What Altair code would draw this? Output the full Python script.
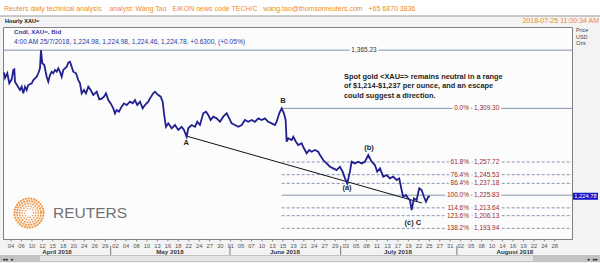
import altair as alt
import pandas as pd

# ---------------- data ----------------
# position along the (trading-time) axis, in day units from 1 Apr, and hourly bid price
day = [1.12, 1.39, 2.01, 2.54, 3.19, 3.62, 3.89, 4.07, 4.96, 5.42, 5.87, 6.30, 6.76, 7.21, 7.64,
       8.56, 8.99, 9.90, 10.33, 10.78, 11.05, 11.40, 11.94, 12.58, 13.01, 13.47, 13.92, 14.35,
       14.81, 15.27, 15.70, 16.15, 16.61, 17.04, 17.49, 17.95, 18.38, 18.84, 19.29, 19.72,
       20.45, 21.06, 21.52, 21.98, 22.59, 23.13, 23.75, 24.39, 25.09, 26.00, 26.70, 27.34,
       27.96, 28.50, 29.12, 29.76, 30.46, 30.91, 31.37, 31.99, 32.71, 33.33, 34.05, 34.94,
       35.66, 36.28, 36.90, 37.62, 38.35, 38.96, 39.85, 40.31, 41.19, 41.65, 42.54, 43.18,
       43.72, 44.07, 44.60, 45.22, 46.13, 47.02, 47.90, 48.82, 49.43, 50.16, 50.59, 51.50,
       52.39, 53.00, 53.73, 54.61, 55.34, 55.96, 56.60, 57.30, 58.21, 59.10, 59.98, 60.90,
       61.59, 62.24, 63.12, 64.01, 64.92, 65.81, 66.69, 67.60, 68.49, 69.38, 70.29, 71.17,
       72.06, 72.97, 73.86, 74.31, 75.01, 75.66, 76.27, 76.73, 77.00, 77.43, 78.34, 78.77,
       79.49, 80.11, 81.02, 81.64, 82.37, 83.06, 83.71, 84.59, 85.48, 85.94, 86.82, 87.73,
       88.62, 89.51, 90.42, 91.30, 92.03, 92.65, 93.26, 93.99, 94.44, 95.33, 96.21, 97.13,
       98.01, 98.90, 99.81, 100.70, 101.31, 102.04, 102.93, 103.84, 104.72, 105.61, 106.52,
       107.22, 107.86, 108.29, 109.02, 109.63, 110.09, 110.55, 111.16, 111.89, 112.59,
       113.23, 113.85, 114.39, 115.00, 115.46]
price = [1343.9, 1338.5, 1343.0, 1333.4, 1337.2, 1346.2, 1346.8, 1334.9, 1329.5, 1326.9, 1330.1,
         1323.7, 1330.1, 1326.9, 1331.7, 1333.4, 1336.5, 1339.7, 1343.0, 1347.8, 1365.2, 1352.6,
         1351.0, 1339.7, 1334.9, 1341.3, 1344.5, 1343.0, 1346.2, 1344.5, 1347.8, 1344.5, 1339.7,
         1346.2, 1347.8, 1349.3, 1353.2, 1354.1, 1349.3, 1344.5, 1343.0, 1336.5, 1333.4, 1323.7,
         1326.9, 1323.7, 1330.1, 1326.9, 1322.1, 1325.3, 1318.0, 1318.6, 1320.5, 1323.7, 1317.3,
         1314.1, 1309.3, 1304.5, 1307.7, 1306.1, 1310.9, 1314.1, 1312.5, 1315.7, 1314.1, 1317.3,
         1312.5, 1315.7, 1309.3, 1312.5, 1315.7, 1318.9, 1323.7, 1325.3, 1322.1, 1320.5, 1315.7,
         1304.5, 1291.6, 1294.9, 1290.1, 1293.3, 1288.5, 1291.6, 1288.5, 1282.0, 1290.1, 1293.3,
         1291.6, 1296.4, 1293.3, 1304.5, 1306.1, 1302.9, 1298.1, 1301.3, 1299.7, 1296.4, 1301.3,
         1304.5, 1299.7, 1294.9, 1293.3, 1291.6, 1293.3, 1298.1, 1296.4, 1298.1, 1296.4, 1299.7,
         1298.1, 1299.7, 1296.4, 1294.9, 1293.3, 1296.4, 1304.5, 1309.3, 1304.5, 1298.1, 1277.2,
         1280.5, 1278.8, 1282.0, 1277.2, 1274.0, 1275.7, 1270.9, 1266.1, 1269.2, 1267.6, 1269.2,
         1267.6, 1264.4, 1259.6, 1256.4, 1253.2, 1251.6, 1250.0, 1253.2, 1248.4, 1242.0, 1237.2,
         1248.4, 1258.0, 1256.4, 1258.0, 1256.4, 1258.0, 1264.4, 1258.0, 1254.8, 1248.4, 1251.6,
         1243.6, 1245.2, 1242.0, 1243.6, 1240.4, 1242.0, 1230.8, 1224.3, 1226.0, 1222.8, 1221.2,
         1211.5, 1222.8, 1221.2, 1232.4, 1230.8, 1224.3, 1219.5, 1224.3, 1224.8]

fib_pct = ["0.0%", "61.8%", "76.4%", "86.4%", "100.0%", "114.6%", "123.6%", "138.2%"]
fib_level = [1309.30, 1257.72, 1245.53, 1237.18, 1225.83, 1213.64, 1206.13, 1193.94]
fib_value_text = ["1,309.30", "1,257.72", "1,245.53", "1,237.18", "1,225.83", "1,213.64",
                  "1,206.13", "1,193.94"]
fib_dashed = [False, True, True, True, False, True, True, True]
fib_from_day = 75.66

high_level = 1365.23
high_text = "1,365.23"
last_price = 1224.78
last_text = "1,224.78"

wave_text = ["A", "B", "(a)", "(b)", "(c) C"]
wave_day = [50.0, 76.0, 93.2, 99.1, 110.9]
wave_price = [1276.0, 1316.3, 1232.7, 1271.2, 1199.0]

trend_day = [50.16, 113.3]
trend_price = [1282.6, 1218.3]

y_ticks = [1190, 1200, 1210, 1220, 1230, 1240, 1250, 1260, 1270, 1280, 1290, 1300, 1310,
           1320, 1330, 1340, 1350, 1360]
# day labels, one every two trading sessions
tick_labels = ["04", "06", "10", "12", "15", "18", "20", "24", "26", "29",
               "02", "04", "08", "10", "13", "16", "18", "22", "24", "27", "30",
               "01", "05", "07", "10", "13", "15", "19", "21", "24", "27", "29",
               "03", "05", "08", "11", "13", "17", "19", "22", "25", "27", "31",
               "02", "05", "08", "10", "14", "16", "19", "22", "24", "28"]
first_tick_day = 3.0
tick_step_day = 2.8075
month_names = ["April 2018", "May 2018", "June 2018", "July 2018", "August 2018"]
month_mid_day = [15.35, 45.68, 76.54, 106.87, 138.27]
month_sep_day = [29.76, 61.78, 91.49, 122.7]

title_text = ("Reuters daily technical analysis\u00a0\u00a0\u00a0 analyst: Wang Tao\u00a0\u00a0 "
              "EIKON news code TECH/C\u00a0\u00a0 wang.tao@thomsonreuters.com\u00a0\u00a0 +65 6870 3836")
stamp_text = "2018-07-25 11:00:34 AM"
panel_text = "Hourly XAU="
legend_1 = "Cndl, XAU=, Bid"
legend_2 = "4:00 AM 25/7/2018, 1,224.98, 1,224.98, 1,224.46, 1,224.78, +0.6300, (+0.05%)"
comment = ["Spot gold <XAU=> remains neutral in a range",
           "of $1,214-$1,237 per ounce, and an escape",
           "could suggest a direction."]
unit_lines = ["Price", "USD", "Ozs"]

# ---------------- tables ----------------
series = pd.DataFrame({"t": day, "p": price})
fib = pd.DataFrame({"pct": fib_pct, "lvl": fib_level, "val": fib_value_text,
                    "dashed": fib_dashed, "t": fib_from_day})
waves = pd.DataFrame({"txt": wave_text, "t": wave_day, "p": wave_price})
trend = pd.DataFrame({"t": trend_day, "p": trend_price})
months = pd.DataFrame({"name": month_names, "t": month_mid_day})
seps = pd.DataFrame({"t": month_sep_day})
high = pd.DataFrame({"lvl": [high_level], "txt": [high_text]})
last = pd.DataFrame({"lvl": [last_price], "txt": [last_text]})
ticks = pd.DataFrame({"lab": tick_labels,
                      "t": [first_tick_day + i * tick_step_day for i in range(len(tick_labels))]})
one = pd.DataFrame({"k": [0]})

FONT = "Liberation Sans"
BG = "#fcfcfc"

xs = alt.Scale(domain=[0.853, 153.6], zero=False, nice=False)
ys = alt.Scale(domain=[1183.7, 1387.5], zero=False, nice=False)

X = alt.X("t:Q", scale=xs, axis=None)
Y = alt.Y("p:Q", scale=ys, axis=None)
YL = alt.Y("lvl:Q", scale=ys, axis=None)

layers = []

# header band
layers.append(alt.Chart(one).mark_rule(color="white", strokeWidth=16).encode(
    x=alt.value(-3), x2=alt.value(597), y=alt.value(-19)))
layers.append(alt.Chart(one).mark_rule(color="#9a9a9a", strokeWidth=1).encode(
    x=alt.value(-3), x2=alt.value(597), y=alt.value(-11)))

# high line
layers.append(alt.Chart(high).mark_rule(color="#8496ab", strokeWidth=1).encode(
    x=alt.value(0), x2=alt.value(569), y=YL))

# fib lines
layers.append(alt.Chart(fib[~fib["dashed"]]).mark_rule(color="#8496ab", strokeWidth=1).encode(
    x=X, x2=alt.value(569), y=YL))
layers.append(alt.Chart(fib[fib["dashed"]]).mark_rule(color="#8496ab", strokeWidth=1,
                                                       strokeDash=[3, 2]).encode(
    x=X, x2=alt.value(569), y=YL))

# trend line
layers.append(alt.Chart(trend).mark_line(color="#111111", strokeWidth=1).encode(x=X, y=Y))

# price series (carries the price axis)
layers.append(alt.Chart(series).mark_line(color="#202090", strokeWidth=1.8,
                                          strokeJoin="miter").encode(
    x=X,
    y=alt.Y("p:Q", scale=ys, axis=alt.Axis(
        orient="right", values=y_ticks, format=",.2f", title=None, grid=False, domain=False,
        labelFont=FONT, labelFontSize=5.6, labelColor="#6a6a6a", tickColor="#8a8a8a",
        tickSize=3, labelPadding=1, labelOverlap=False, labelFlush=False,
        labelFontWeight={"condition": {"test": "datum.value % 100 === 0", "value": "bold"},
                         "value": "normal"}))))

# day ticks and labels on the time axis
layers.append(alt.Chart(ticks).mark_rule(color="#8a8a8a", strokeWidth=1).encode(
    x=X, y=alt.value(212), y2=alt.value(214.5)))
layers.append(alt.Chart(ticks).mark_text(font=FONT, fontSize=5.8, color="#555555",
                                         baseline="middle").encode(
    x=X, y=alt.value(218.5), text="lab:N"))

# fib labels (with halo hiding the line behind the glyphs)
for halo in (True, False):
    kw = dict(stroke=BG, strokeWidth=4) if halo else {}
    layers.append(alt.Chart(fib).mark_text(align="right", baseline="middle", font=FONT,
                                           fontSize=6.5, color="#9b2b2b" if not halo else BG,
                                           **kw).encode(
        x=alt.value(466), y=YL, text="pct:N"))
    layers.append(alt.Chart(fib).mark_text(align="left", baseline="middle", font=FONT,
                                           fontSize=6.5, color="#9b2b2b" if not halo else BG,
                                           **kw).encode(
        x=alt.value(471), y=YL, text="val:N"))
    layers.append(alt.Chart(high).mark_text(align="center", baseline="middle", font=FONT,
                                            fontSize=6.5, color="#333333" if not halo else BG,
                                            **kw).encode(
        x=alt.value(361), y=YL, text="txt:N"))

# wave labels
layers.append(alt.Chart(waves).mark_text(font=FONT, fontSize=7.5, fontWeight="bold",
                                         color="#262626").encode(x=X, y=Y, text="txt:N"))

# commentary
layers.append(alt.Chart(one).mark_text(text=comment, align="left", baseline="top", font=FONT,
                                       fontSize=7.4, fontWeight="bold", lineHeight=9.8,
                                       color="#1e1e1e").encode(
    x=alt.value(341), y=alt.value(45.5)))

# header texts
layers.append(alt.Chart(one).mark_text(text=title_text, align="left", baseline="middle",
                                       font=FONT, fontSize=7, color="#ee8a2c").encode(
    x=alt.value(1), y=alt.value(-18)))
layers.append(alt.Chart(one).mark_text(text=stamp_text, align="right", baseline="middle",
                                       font=FONT, fontSize=7, color="#ee8a2c").encode(
    x=alt.value(596), y=alt.value(-6)))
layers.append(alt.Chart(one).mark_text(text=panel_text, align="left", baseline="middle",
                                       font=FONT, fontSize=5.6, fontWeight="bold",
                                       color="#111111").encode(
    x=alt.value(2), y=alt.value(-6)))
layers.append(alt.Chart(one).mark_text(text=legend_1, align="left", baseline="middle",
                                       font=FONT, fontSize=6.2, fontWeight="bold",
                                       color="#2a3aa8").encode(
    x=alt.value(11), y=alt.value(5)))
layers.append(alt.Chart(one).mark_text(text=legend_2, align="left", baseline="middle",
                                       font=FONT, fontSize=6.6, color="#2a3aa8").encode(
    x=alt.value(11), y=alt.value(15)))
layers.append(alt.Chart(one).mark_text(text=unit_lines, align="left", baseline="top",
                                       font=FONT, fontSize=5.4, lineHeight=6.5,
                                       color="#444444").encode(
    x=alt.value(573), y=alt.value(1)))

# current price box
layers.append(alt.Chart(last).mark_rule(color="#1616c8", strokeWidth=7).encode(
    x=alt.value(570), x2=alt.value(595), y=YL))
layers.append(alt.Chart(last).mark_text(font=FONT, fontSize=5.8, color="white").encode(
    x=alt.value(582.5), y=YL, text="txt:N"))

# month band
layers.append(alt.Chart(months).mark_text(font=FONT, fontSize=6.2, fontWeight="bold",
                                          color="#333333").encode(
    x=X, y=alt.value(224.5), text="name:N"))
layers.append(alt.Chart(seps).mark_rule(color="#7a7a7a", strokeWidth=1).encode(
    x=X, y=alt.value(219), y2=alt.value(228)))

# scrollbar
layers.append(alt.Chart(one).mark_rule(color="#c3c3c3", strokeWidth=7).encode(
    x=alt.value(-3), x2=alt.value(597), y=alt.value(231.5)))
layers.append(alt.Chart(one).mark_rule(color="#e3e3e3", strokeWidth=5).encode(
    x=alt.value(37), x2=alt.value(530), y=alt.value(231.5)))
for bx, glyph in ((2, "\u25c2\u25c2"), (8.5, "\u25c2"), (586, "\u25b8"), (592.5, "\u25b8\u25b8")):
    layers.append(alt.Chart(one).mark_text(text=glyph, font="DejaVu Sans", fontSize=5,
                                           color="#222222").encode(
        x=alt.value(bx), y=alt.value(232)))

# Reuters logo
for r, w in ((4.5, 1.3), (7, 1.6), (9.5, 1.9), (12, 2.1), (14.5, 2.2)):
    layers.append(alt.Chart(one).mark_point(shape="circle", filled=False, color="#ee9440",
                                            strokeWidth=w, strokeDash=[0.1, 2.6],
                                            strokeCap="round", size=(2 * r) ** 2,
                                            opacity=0.95).encode(
        x=alt.value(26), y=alt.value(186)))
layers.append(alt.Chart(one).mark_text(text="REUTERS", align="left", baseline="middle",
                                       font=FONT, fontSize=15.5, color="#727272").encode(
    x=alt.value(50), y=alt.value(186)))

chart = alt.layer(*layers).properties(
    width=569, height=212,
    padding={"left": 3, "top": 27, "right": 28, "bottom": 24},
    autosize=alt.AutoSizeParams(type="none"),
    background="#f3f3f3",
).configure_view(stroke="#808080", strokeWidth=1, fill=BG)

chart.save("out.html", embed_options={"renderer": "svg", "actions": False})
